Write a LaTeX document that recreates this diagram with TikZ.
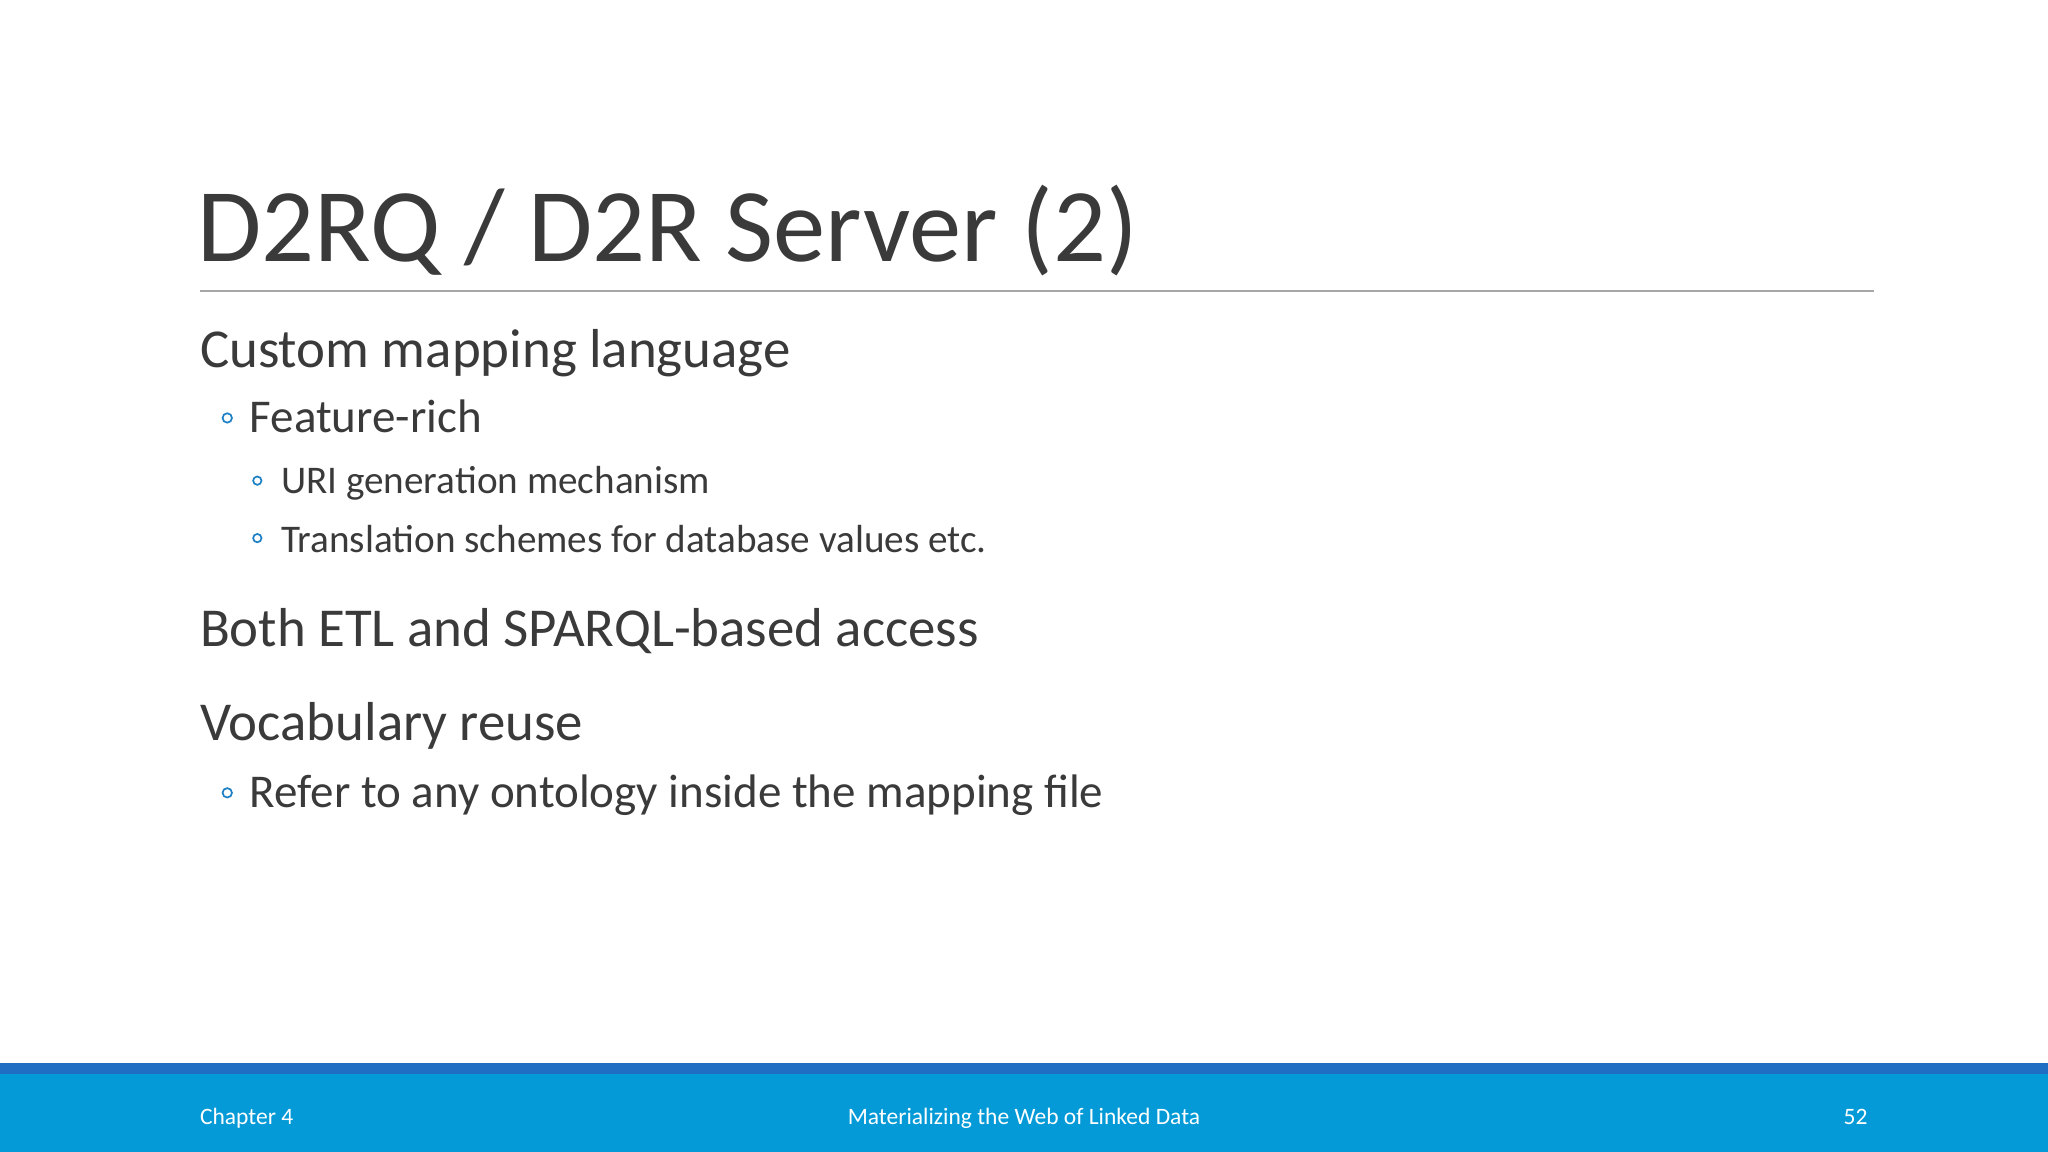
\documentclass[tikz,border=0pt]{standalone}
\usepackage{fontspec}
\setmainfont{Carlito}
\definecolor{bandblue}{HTML}{039AD7}
\definecolor{stripblue}{HTML}{1F6EC4}
\definecolor{textgray}{HTML}{3A3A3A}
\definecolor{bulletblue}{HTML}{1D7FC4}
\tikzset{
  lvlone/.style={anchor=base west,inner sep=0pt,text=textgray,font=\fontsize{42}{42}\selectfont},
  lvltwo/.style={anchor=base west,inner sep=0pt,text=textgray,font=\fontsize{36}{36}\selectfont},
  lvlthree/.style={anchor=base west,inner sep=0pt,text=textgray,font=\fontsize{30}{30}\selectfont},
  footer/.style={inner sep=0pt,text=white,font=\fontsize{18}{18}\selectfont},
  bulletmark/.style={draw=bulletblue,line width=1.3pt}
}
\begin{document}
\begin{tikzpicture}[x=1pt,y=-1pt]
  \useasboundingbox (0,0) rectangle (1568,882);
  \fill[white] (0,0) rectangle (1568,882);
  % title
  \node[anchor=base west,inner sep=0pt,text=textgray,font=\fontsize{80}{80}\selectfont] (title) at (151,200) {D2RQ / D2R Server (2)};
  \draw[gray!70,line width=1.2pt] (153,223) -- (1435,223);
  % body
  \node[lvlone] (custom) at (153,281) {Custom mapping language};
  \node[lvltwo] (feature) at (191,331) {Feature-rich};
  \node[lvlthree] (uri) at (215,378) {URI generation mechanism};
  \node[lvlthree] (trans) at (215,423) {Translation schemes for database values etc.};
  \node[lvlone] (both) at (153,495) {Both ETL and SPARQL-based access};
  \node[lvlone] (vocab) at (153,567) {Vocabulary reuse};
  \node[lvltwo] (refer) at (191,618) {Refer to any ontology inside the mapping file};
  \draw[bulletmark] (174,320) circle (3.6);
  \draw[bulletmark] (197,368) circle (3.2);
  \draw[bulletmark] (197,412) circle (3.2);
  \draw[bulletmark] (174,607) circle (3.6);
  % footer band
  \fill[bandblue] (0,814) rectangle (1568,882);
  \fill[stripblue] (0,814) rectangle (1568,822);
  \node[footer,anchor=base west] (chap) at (153,861) {Chapter 4};
  \node[footer,anchor=base] (book) at (784,861) {Materializing the Web of Linked Data};
  \node[footer,anchor=base east] (page) at (1430,861) {52};
\end{tikzpicture}
\end{document}
